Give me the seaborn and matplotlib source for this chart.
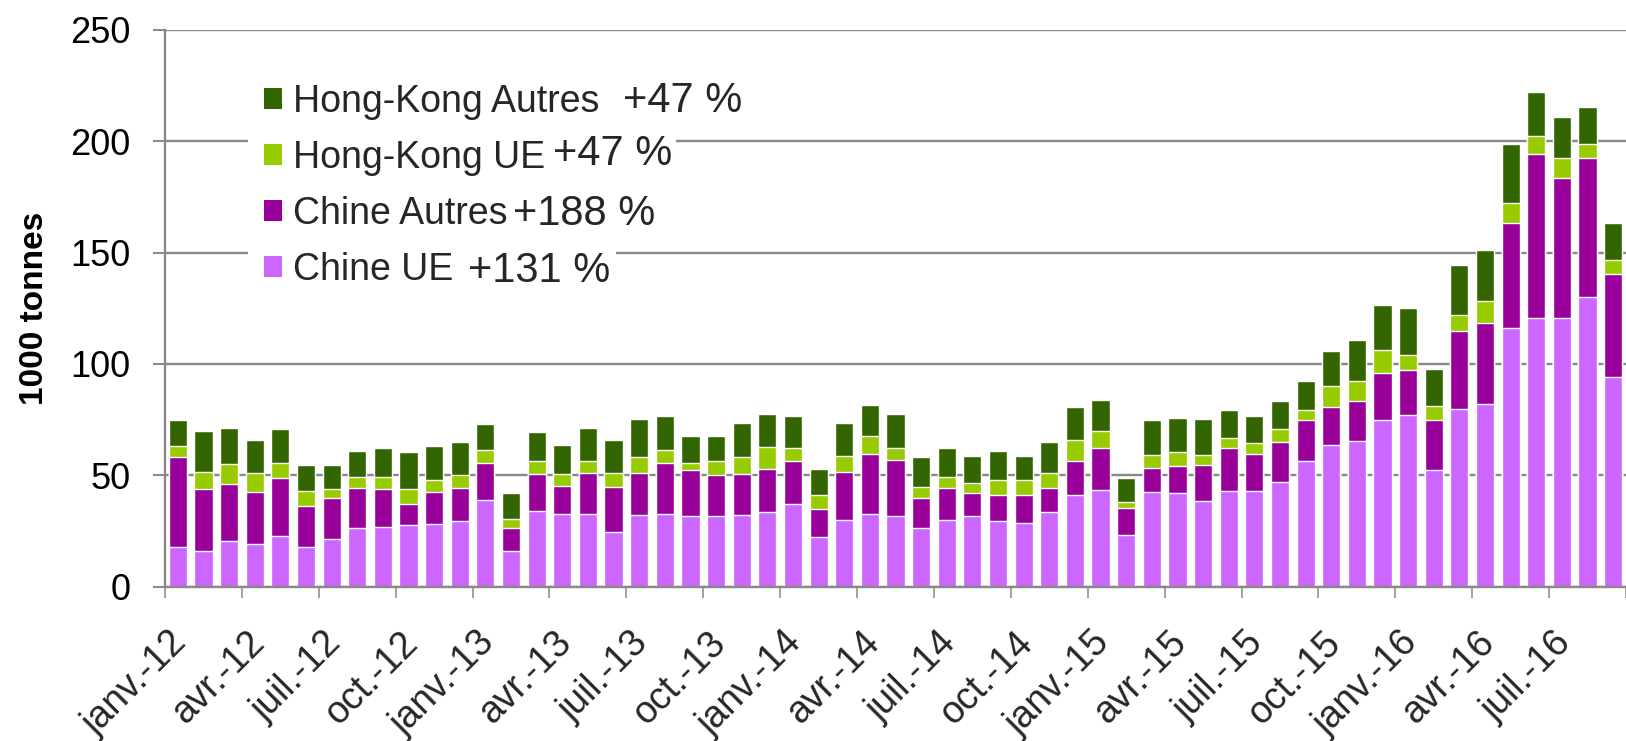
import numpy as np
import pandas as pd
import matplotlib
matplotlib.use("Agg")
import matplotlib.pyplot as plt
from matplotlib.patches import Patch
from matplotlib.transforms import ScaledTranslation
import seaborn as sns

# ---------------- data (1000 tonnes, monthly, janv.-12 .. sept.-16) ----------------
mois = ["janv.", "févr.", "mars", "avr.", "mai", "juin",
        "juil.", "août", "sept.", "oct.", "nov.", "déc."]
categories = [f"{m}-{a}" for a in ["12", "13", "14", "15", "16"] for m in mois][:57]

chine_ue = [17.8, 16.0, 20.5, 19.2, 22.8, 17.8, 21.4, 26.3, 26.8, 27.7, 28.1, 29.5,
            38.9, 16.0, 34.0, 32.6, 32.6, 24.6, 32.2, 32.6, 31.7, 31.7, 32.2, 33.5,
            37.1, 22.3, 29.9, 32.6, 31.7, 26.3, 29.9, 31.7, 29.5, 28.6, 33.5, 41.2,
            43.6, 23.4, 42.4, 41.9, 38.6, 42.8, 42.8, 46.9, 56.3, 63.5, 65.3, 74.8,
            77.0, 52.6, 79.8, 81.9, 116.2, 120.7, 120.7, 130.2, 94.2]
chine_autres = [40.4, 27.9, 25.6, 23.3, 26.0, 18.4, 18.4, 18.0, 17.1, 9.4, 14.4, 14.8,
                16.6, 10.3, 16.6, 12.6, 18.4, 20.2, 18.8, 22.9, 20.7, 18.4, 18.4, 19.3,
                19.3, 12.6, 21.6, 27.0, 25.2, 13.5, 14.4, 10.4, 11.7, 12.6, 10.8, 15.2,
                18.9, 12.1, 10.7, 12.1, 15.9, 19.3, 16.6, 18.0, 18.5, 17.0, 18.0, 21.1,
                20.3, 22.2, 35.0, 36.5, 47.3, 73.4, 63.0, 62.2, 46.4]
hk_ue = [5.0, 7.6, 9.0, 8.5, 6.7, 6.8, 4.1, 5.0, 5.4, 6.8, 5.4, 5.8,
         5.9, 4.1, 5.8, 5.4, 5.4, 6.2, 7.2, 5.9, 3.1, 6.3, 7.6, 9.9,
         5.9, 6.3, 7.2, 8.1, 5.4, 5.0, 5.0, 4.5, 6.7, 6.7, 6.7, 9.5,
         7.3, 2.4, 5.9, 6.4, 4.5, 4.5, 5.0, 5.9, 4.5, 9.5, 9.0, 10.4,
         6.7, 6.2, 7.3, 9.9, 9.0, 8.1, 8.7, 6.2, 6.2]
hk_autres = [11.7, 18.4, 16.2, 14.9, 15.3, 11.6, 10.7, 11.6, 13.0, 16.6, 15.3, 14.9,
             11.7, 11.7, 13.1, 13.0, 14.9, 14.9, 17.1, 15.2, 12.2, 11.3, 15.3, 14.8,
             14.3, 11.6, 14.8, 13.9, 15.2, 13.4, 13.0, 12.1, 13.0, 10.8, 14.0, 14.8,
             14.0, 11.1, 15.8, 15.2, 16.3, 12.7, 12.1, 12.5, 13.0, 15.8, 18.5, 20.3,
             21.2, 16.8, 22.5, 23.0, 26.1, 19.8, 18.5, 16.8, 16.7]

series_names = ["Chine UE", "Chine Autres", "Hong-Kong UE", "Hong-Kong Autres"]
series_pct = ["+131 %", "+188 %", "+47 %", "+47 %"]
series_colors = ["#CC66FF", "#990099", "#99CC00", "#336600"]
tick_every = 3
y_ticks = [0, 50, 100, 150, 200, 250]

# ---------------- figure ----------------
sns.set_theme(style="white")
plt.rcParams["font.family"] = ["Liberation Sans", "DejaVu Sans"]

W, H = 1626, 741
fig = plt.figure(figsize=(W / 100, H / 100), dpi=100)
ax_left, ax_right, ax_bottom, ax_top = 165, 1626, 586.7, 29.9
ax = fig.add_axes([ax_left / W, 1 - ax_bottom / H,
                   (ax_right - ax_left) / W, (ax_bottom - ax_top) / H])

df = pd.DataFrame({"mois": categories, "Chine UE": chine_ue,
                   "Chine Autres": chine_autres, "Hong-Kong UE": hk_ue,
                   "Hong-Kong Autres": hk_autres})
cum = df[series_names].cumsum(axis=1)

# stacked bars: draw cumulative totals from tallest to shortest
for name, color in reversed(list(zip(series_names, series_colors))):
    sns.barplot(x=df["mois"], y=cum[name], order=categories, color=color,
                saturation=1, width=0.71, errorbar=None, ax=ax, zorder=2)

grey = "#888888"
ax.set_axisbelow(True)
ax.set_xlim(-0.5, 55.95)
ax.set_ylim(0, 250)
ax.set_yticks(y_ticks)
ax.yaxis.grid(True, color=grey, lw=1.7)
ax.xaxis.grid(False)
for s in ["top", "right"]:
    ax.spines[s].set_visible(False)
for s in ["left", "bottom"]:
    ax.spines[s].set_color(grey)
    ax.spines[s].set_linewidth(1.7)

ax.tick_params(axis="y", which="major", left=True, length=8.6, width=1.4,
               color=grey, pad=16.5, labelsize=26, labelcolor="black")

major_pos = list(range(0, len(categories), tick_every))
ax.set_xticks(major_pos)
ax.set_xticklabels([categories[i] for i in major_pos], rotation=45,
                   ha="right", va="center", rotation_mode="anchor", fontsize=27)
ax.set_xticks(np.arange(-0.5, len(categories), tick_every), minor=True)
ax.tick_params(axis="x", which="major", bottom=True, length=0, pad=36.5)
ax.tick_params(axis="x", which="minor", bottom=True, length=8, width=1.1,
               color=grey)
off = ScaledTranslation(4 / 100, 0, fig.dpi_scale_trans)
for lab in ax.get_xticklabels():
    lab.set_transform(lab.get_transform() + off)

ax.set_xlabel("")
ax.set_ylabel("1000 tonnes", fontsize=24, fontweight="bold", color="black")
ax.yaxis.set_label_coords((50 - ax_left) / (ax_right - ax_left), 0.5)

# legend (top entry = top of stack)
handles = [Patch(facecolor=c, edgecolor="none") for c in reversed(series_colors)]
leg = ax.legend(handles, list(reversed(series_names)), loc="upper left",
                bbox_to_anchor=(248 / W, 1 - 68 / H), bbox_transform=fig.transFigure,
                fontsize=27, frameon=True, facecolor="white", edgecolor="none",
                framealpha=1, fancybox=False, borderpad=0.43, borderaxespad=0,
                handlelength=0.48, handleheight=0.48, handletextpad=0.29,
                labelspacing=0.53)
leg.set_zorder(5)

# percent annotations next to legend entries
pct_pos = {"Hong-Kong Autres": (623, 111.7), "Hong-Kong UE": (553, 165),
           "Chine Autres": (513, 225), "Chine UE": (468, 281.7)}
for name, pct in zip(series_names, series_pct):
    x, y = pct_pos[name]
    fig.text(x / W, 1 - y / H, pct, fontsize=30, ha="left", va="baseline",
             zorder=6, bbox=dict(facecolor="white", edgecolor="none", pad=2.5))

fig.savefig("out.png", dpi=100)
